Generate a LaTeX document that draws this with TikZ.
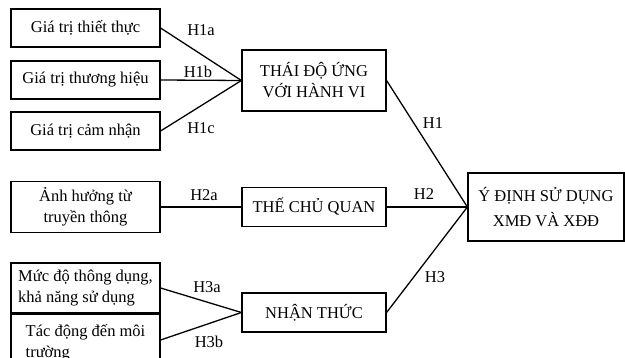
\documentclass[tikz,border=0pt]{standalone}
\usepackage{fontspec}
\setmainfont{Liberation Serif}
\tikzset{
	hbox/.style={draw, line width=1.2pt, inner xsep=0pt, inner ysep=0pt, align=center, font=\fontsize{16.5}{21}\selectfont},
	hlabel/.style={inner sep=0pt, font=\fontsize{16.5}{21}\selectfont},
	hline/.style={line width=1.3pt}
}

\begin{document}
\begin{tikzpicture}[x=1pt, y=-1pt]
			%%%%% START %%%%%
			\useasboundingbox (0,0) rectangle (625,358);
			
			% left column
			\node[hbox, minimum width=149pt, minimum height=38pt] (g1) at (85.5,28) {Giá trị thiết thực};
			\node[hbox, minimum width=149pt, minimum height=38pt] (g2) at (85.5,80) {Giá trị thương hiệu};
			\node[hbox, minimum width=149pt, minimum height=38pt] (g3) at (85.5,131) {Giá trị cảm nhận};
			\node[hbox, minimum width=149pt, minimum height=51pt] (a1) at (85.5,207) {Ảnh hưởng từ\\truyền thông};
			\node[hbox, align=left, minimum width=149pt, minimum height=50pt] (m1) at (85.5,288) {Mức độ thông dụng,\\khả năng sử dụng};
			\node[hbox, align=left, minimum width=149pt, minimum height=58pt] (t1) at (85.5,343) {Tác động đến môi\\trường};
			
			% middle column
			\node[hbox, minimum width=144pt, minimum height=61pt] (thai) at (314,80.5) {THÁI ĐỘ ỨNG\\VỚI HÀNH VI};
			\node[hbox, minimum width=144pt, minimum height=39pt] (the) at (314,207) {THẾ CHỦ QUAN};
			\node[hbox, minimum width=144pt, minimum height=39pt] (nhan) at (314,312.5) {NHẬN THỨC};
			
			% right
			\node[hbox, minimum width=156pt, minimum height=68pt] (ydinh) at (546,207) {Ý ĐỊNH SỬ DỤNG\\[4pt]XMĐ VÀ XĐĐ};
			
			\draw[hline] (g1.east) -- (thai.west);
			\draw[hline] (g2.east) -- (thai.west);
			\draw[hline] (g3.east) -- (thai.west);
			\draw[hline] (a1.east) -- (the.west);
			\draw[hline] (m1.east) -- (nhan.west);
			\draw[hline] ([yshift=3pt]t1.east) -- (nhan.west);
			\draw[hline] (thai.east) -- (ydinh.west);
			\draw[hline] (the.east) -- (ydinh.west);
			\draw[hline] (nhan.east) -- (ydinh.west);
			
			\node[hlabel] (h1a) at (201,30) {H1a};
			\node[hlabel] (h1b) at (198,72) {H1b};
			\node[hlabel] (h1c) at (201,128) {H1c};
			\node[hlabel] (h2a) at (204,195) {H2a};
			\node[hlabel] (h3a) at (207,287) {H3a};
			\node[hlabel] (h3b) at (209,342) {H3b};
			\node[hlabel] (h1) at (433,123) {H1};
			\node[hlabel] (h2) at (424,194) {H2};
			\node[hlabel] (h3) at (435,277) {H3};
			
			%%%%% END %%%%%
		\end{tikzpicture}
\end{document}
